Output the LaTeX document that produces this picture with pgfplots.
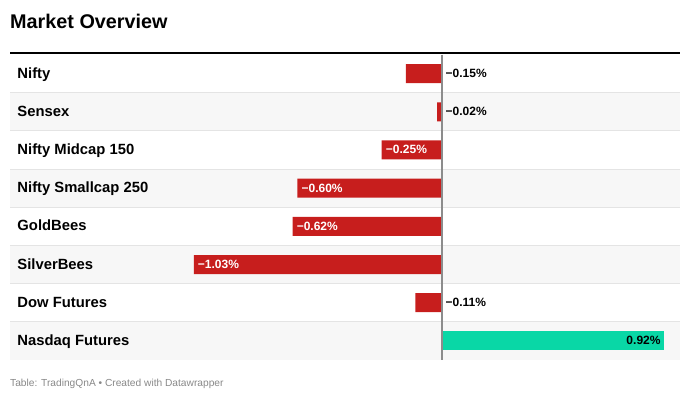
\documentclass[border=0pt]{standalone}
\usepackage{pgfplots}
\pgfplotsset{compat=1.18}
\usepackage{fontspec}
\setmainfont{Liberation Sans}
\definecolor{negred}{RGB}{199,30,29}
\definecolor{posgreen}{RGB}{9,215,166}
\definecolor{rowgray}{RGB}{247,247,247}
\definecolor{sepgray}{RGB}{228,228,228}
\definecolor{zerogray}{RGB}{140,140,140}
\definecolor{footgray}{RGB}{136,136,136}
\begin{document}
\begin{tikzpicture}[x=1pt,y=1pt]
\useasboundingbox (0,0) rectangle (690,401);
% row backgrounds (rows 2,4,6,8 from the top) and separators
\foreach \i in {1,3,5,7} {
  \fill[rowgray] (10,{346.5-38.1875*\i}) rectangle (680,{346.5-38.1875*(\i+1)});
}
\foreach \i in {1,...,7} {
  \draw[sepgray,line width=1pt] (10,{346.5-38.1875*\i}) -- (680,{346.5-38.1875*\i});
}
\draw[black,line width=2.5pt] (10,347.8) -- (680,347.8);
\node[anchor=base west,inner sep=0pt,font=\fontsize{19.8}{24}\selectfont\bfseries] at (10,372) {Market Overview};
\node[anchor=base west,inner sep=0pt,font=\fontsize{10.2}{12}\selectfont,text=footgray] at (10,14) {Table: TradingQnA • Created with Datawrapper};
\begin{axis}[
  at={(10pt,41pt)}, anchor=south west,
  width=670pt, height=305.5pt, scale only axis,
  xmin=-1.7925, xmax=0.9876,
  ymin=-0.5, ymax=7.5, y dir=reverse,
  axis line style={draw=none},
  tick style={draw=none},
  xtick=\empty,
  ytick={0,...,7},
  yticklabels={Nifty,Sensex,Nifty Midcap 150,Nifty Smallcap 250,GoldBees,SilverBees,Dow Futures,Nasdaq Futures},
  yticklabel style={anchor=west, xshift=8.2pt, yshift=-0.6pt, font=\fontsize{14.8}{17}\selectfont\bfseries, text height=1.5ex, text depth=0pt},
  clip=false,
  xbar, bar width=19pt, bar shift=0pt,
]
\addplot[fill=negred,draw=none] coordinates {(-0.15,0) (-0.02,1) (-0.25,2) (-0.60,3) (-0.62,4) (-1.03,5) (-0.11,6)};
\addplot[fill=posgreen,draw=none] coordinates {(0.92,7)};
\draw[zerogray,line width=1.3pt] (axis cs:0,-0.5) -- (axis cs:0,7.5);
% value labels
\begin{scope}[every node/.style={font=\fontsize{12}{14}\selectfont\bfseries, inner sep=0pt, text height=1.5ex, text depth=0pt}]
\node[anchor=west] at ([xshift=3.5pt]axis cs:0,0) {−0.15\%};
\node[anchor=west] at ([xshift=3.5pt]axis cs:0,1) {−0.02\%};
\node[anchor=west,text=white] at ([xshift=4pt]axis cs:-0.25,2) {−0.25\%};
\node[anchor=west,text=white] at ([xshift=4pt]axis cs:-0.60,3) {−0.60\%};
\node[anchor=west,text=white] at ([xshift=4pt]axis cs:-0.62,4) {−0.62\%};
\node[anchor=west,text=white] at ([xshift=4pt]axis cs:-1.03,5) {−1.03\%};
\node[anchor=west] at ([xshift=3.5pt]axis cs:0,6) {−0.11\%};
\node[anchor=east] at ([xshift=-3pt]axis cs:0.92,7) {0.92\%};
\end{scope}
\end{axis}
\end{tikzpicture}
\end{document}
